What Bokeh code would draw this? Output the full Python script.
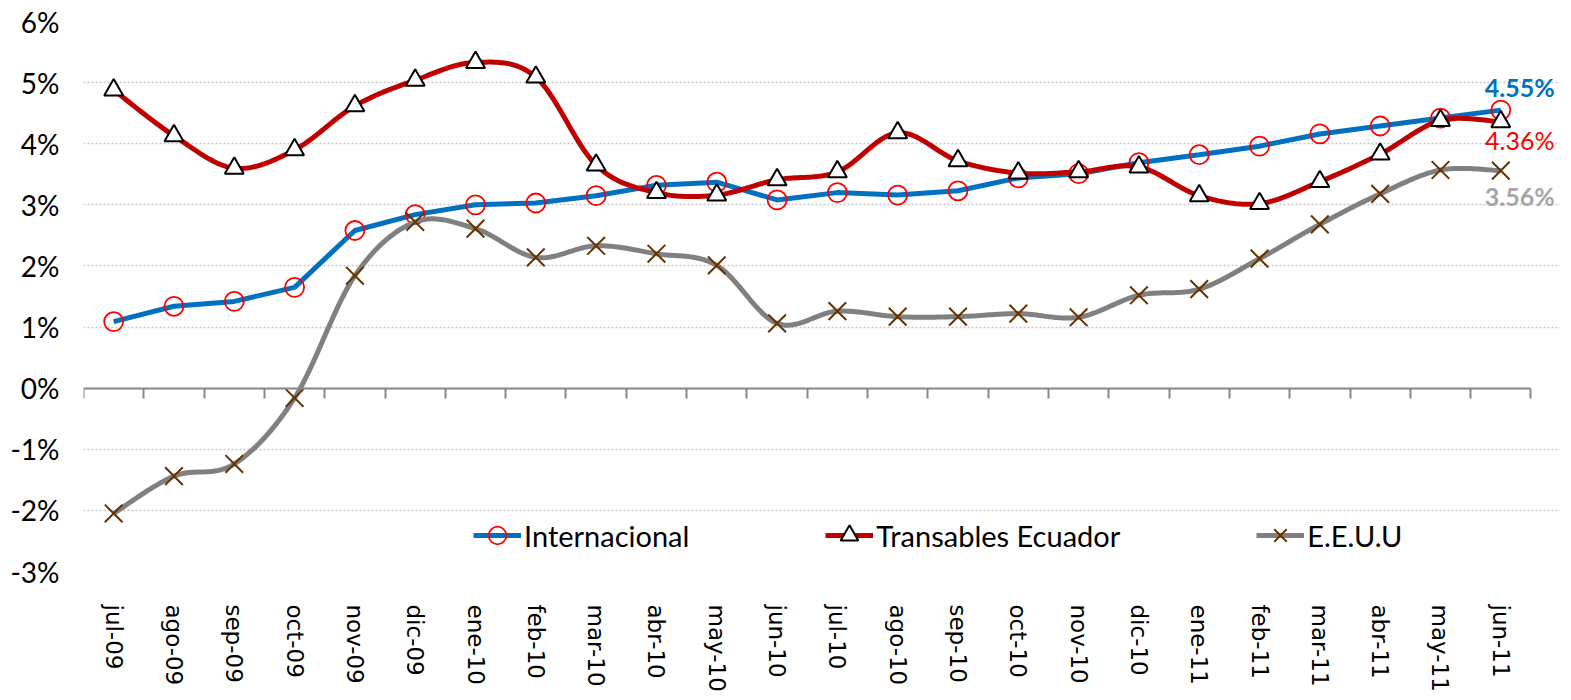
import numpy as np
from bokeh.plotting import figure
from bokeh.models import (Range1d, LinearAxis, FixedTicker, Legend, LegendItem, Label)
from bokeh.embed import file_html
from bokeh.resources import INLINE

months = ["jul-09", "ago-09", "sep-09", "oct-09", "nov-09", "dic-09", "ene-10", "feb-10",
          "mar-10", "abr-10", "may-10", "jun-10", "jul-10", "ago-10", "sep-10", "oct-10",
          "nov-10", "dic-10", "ene-11", "feb-11", "mar-11", "abr-11", "may-11", "jun-11"]
internacional = [1.09, 1.34, 1.42, 1.65, 2.58, 2.84, 3.00, 3.03, 3.15, 3.32, 3.37, 3.08,
                 3.20, 3.16, 3.23, 3.44, 3.51, 3.69, 3.82, 3.96, 4.16, 4.29, 4.42, 4.55]
transables = [4.88, 4.13, 3.60, 3.90, 4.62, 5.04, 5.33, 5.09, 3.65, 3.20, 3.16, 3.41,
              3.54, 4.18, 3.72, 3.52, 3.54, 3.62, 3.15, 3.02, 3.38, 3.83, 4.38, 4.36]
eeuu = [-2.05, -1.44, -1.24, -0.16, 1.84, 2.72, 2.61, 2.14, 2.33, 2.20, 2.01, 1.06,
        1.26, 1.17, 1.17, 1.22, 1.16, 1.52, 1.62, 2.12, 2.68, 3.18, 3.57, 3.56]
y_ticks = [-3, -2, -1, 0, 1, 2, 3, 4, 5, 6]
end_labels = ["4.55%", "4.36%", "3.56%"]

x = list(range(len(months)))
n = len(months)


def smooth(xs, ys, k=24):
    xs = np.asarray(xs, float)
    ys = np.asarray(ys, float)
    P = np.column_stack([xs, ys])
    P = np.vstack([P[0], P, P[-1]])
    out = []
    t = np.linspace(0, 1, k)[:, None]
    for i in range(len(xs) - 1):
        p0, p1, p2, p3 = P[i], P[i + 1], P[i + 2], P[i + 3]
        c1 = p1 + (p2 - p0) / 6.0
        c2 = p2 - (p3 - p1) / 6.0
        b = ((1 - t) ** 3) * p1 + 3 * ((1 - t) ** 2) * t * c1 + 3 * (1 - t) * t ** 2 * c2 + t ** 3 * p2
        out.append(b if i == 0 else b[1:])
    B = np.vstack(out)
    return B[:, 0], B[:, 1]


p = figure(frame_width=1477, frame_height=550, x_range=Range1d(-0.5, n - 0.01),
           y_range=Range1d(min(y_ticks), max(y_ticks)),
           output_backend="svg", toolbar_location=None, x_axis_location=None,
           min_border_left=83, min_border_right=5, min_border_top=21, min_border_bottom=10)
p.outline_line_color = None
p.background_fill_color = "white"

yax = p.yaxis[0]
yax.ticker = FixedTicker(ticks=y_ticks)
yax.major_label_overrides = {t: f"{t}%" for t in y_ticks}
yax.axis_line_color = None
yax.major_tick_line_color = None
yax.minor_tick_line_color = None
yax.major_label_text_font = "Lato"
yax.major_label_text_font_size = "28px"
yax.major_label_text_color = "#000000"
yax.major_label_standoff = 18

p.xgrid.visible = False
p.ygrid.ticker = FixedTicker(ticks=[t for t in y_ticks if t != 0])
p.ygrid.grid_line_color = "#C8C8C8"
p.ygrid.grid_line_dash = "2 2"
p.ygrid.grid_line_width = 1.5
p.ygrid.bounds = (-0.5, n - 0.5)

bounds = [i - 0.5 for i in range(n + 1)]
ax0 = LinearAxis(fixed_location=0, ticker=FixedTicker(ticks=bounds), bounds=(-0.5, n - 0.5),
                 major_tick_in=10, major_tick_out=0,
                 major_label_text_color=None, major_label_text_font_size="1px",
                 major_label_standoff=0,
                 axis_line_color="#868686", axis_line_width=2,
                 major_tick_line_color="#868686", major_tick_line_width=2,
                 minor_tick_line_color=None)
p.add_layout(ax0, "above")

ax1 = LinearAxis(ticker=FixedTicker(ticks=x),
                 major_label_overrides={i: m for i, m in enumerate(months)},
                 axis_line_color=None, major_tick_line_color=None, minor_tick_line_color=None,
                 major_label_orientation="vertical",
                 major_label_text_font="DejaVu Sans", major_label_text_font_size="23px",
                 major_label_text_color="#000000", major_label_standoff=27)
p.add_layout(ax1, "below")

l1 = p.line(x, internacional, line_color="#0070C0", line_width=5)
m1 = p.scatter(x, internacional, marker="circle", size=19, fill_color=None,
               line_color="#FF0000", line_width=1.8)

sx, sy = smooth(x, transables)
l2 = p.line(sx, sy, line_color="#C00000", line_width=5)
m2 = p.scatter(x, transables, marker="triangle", size=19, fill_color="white",
               line_color="#000000", line_width=2)

ex, ey = smooth(x, eeuu)
l3 = p.line(ex, ey, line_color="#808080", line_width=5)
m3 = p.scatter(x, eeuu, marker="x", size=25, line_color="#663300", line_width=2)

legend = Legend(items=[LegendItem(label="Internacional", renderers=[l1, m1]),
                       LegendItem(label="Transables Ecuador", renderers=[l2, m2]),
                       LegendItem(label="E.E.U.U", renderers=[l3, m3])],
                orientation="horizontal", location=(390, 14),
                background_fill_alpha=0, border_line_color=None,
                glyph_width=48, glyph_height=44, label_standoff=3, spacing=136,
                padding=0, margin=0, label_text_font="Lato",
                label_text_font_size="29px", label_text_color="#000000")
p.add_layout(legend, "center")

last = n - 1
p.add_layout(Label(x=last, y=internacional[-1], text=end_labels[0], x_offset=19, y_offset=23,
                   text_align="center", text_baseline="middle", text_font="Lato",
                   text_font_size="25px", text_font_style="bold", text_color="#0070C0"))
p.add_layout(Label(x=last, y=transables[-1], text=end_labels[1], x_offset=19, y_offset=-18,
                   text_align="center", text_baseline="middle", text_font="Lato",
                   text_font_size="25px", text_color="#FF0000"))
p.add_layout(Label(x=last, y=eeuu[-1], text=end_labels[2], x_offset=19, y_offset=-25,
                   text_align="center", text_baseline="middle", text_font="Lato",
                   text_font_size="25px", text_font_style="bold", text_color="#A6A6A6"))

open("out.html", "w").write(file_html(p, INLINE))
